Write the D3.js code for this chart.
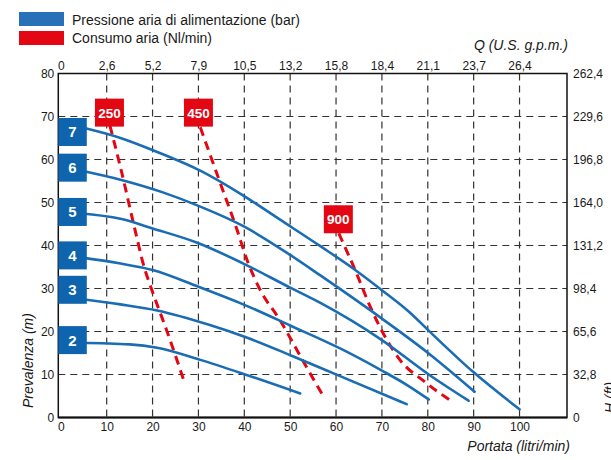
<!DOCTYPE html>
<html>
<head>
<meta charset="utf-8">
<script src="https://cdn.jsdelivr.net/npm/d3@7/dist/d3.min.js"></script>
<style>
  html, body { margin: 0; padding: 0; background: #fff; }
  svg { display: block; font-family: "Liberation Sans", Arial, sans-serif; }
</style>
</head>
<body>
<svg id="chart" width="611" height="460"></svg>
<script>
// Flow (l/min) vs head (m) for each supply air pressure (bar)
const pressureLabels = ["2", "3", "4", "5", "6", "7"];
const pressureLabelHead = [18.0, 29.7, 37.7, 47.8, 58.1, 66.4];

const curve2 = [[4, 17.4], [15, 17.0], [21, 16.2], [30.4, 13.4], [40.5, 9.9], [52.2, 5.6]];
const curve3 = [[4, 27.6], [13, 26.3], [21, 24.9], [32.5, 21.5], [40.5, 18.6], [50.7, 14.2], [60.5, 9.8], [75.4, 3.1]];
const curve4 = [[4, 37.3], [13, 35.8], [20, 34.3], [30, 30.4], [40, 26.2], [50, 21.4], [61, 16.0], [70, 10.9], [75.4, 7.6], [80.2, 4.2]];
const curve5 = [[4, 47.5], [13, 46.2], [20.2, 43.9], [29.6, 40.7], [39.8, 35.8], [50, 30.2], [56.5, 26.7], [70, 18.0], [80.2, 10.0], [88.9, 3.9]];
const curve6 = [[4, 57.5], [13, 55.3], [22.4, 52.3], [29.6, 49.4], [39.8, 44.5], [50, 37.8], [56.5, 33.1], [70, 23.0], [80.2, 14.9], [90.2, 6.0]];
const curve7 = [[4, 67.6], [13, 65.0], [20.2, 62.1], [30.4, 57.4], [39.8, 51.6], [47.8, 46.0], [56.5, 39.9], [63.8, 34.6], [70, 29.6], [76.2, 24.3], [80.2, 20.2], [90, 10.5], [100, 1.9]];
const pressureCurves = [curve2, curve3, curve4, curve5, curve6, curve7];

// Air consumption (Nl/min) iso-lines
const airLabels = ["250", "450", "900"];
const airLabelPos = [[10.6, 70.9], [30.0, 70.9], [60.5, 46.1]];
const air250 = [[10.7, 67.9], [13, 58.2], [16.2, 43.5], [18, 35.6], [20, 29.2], [23.1, 20.2], [27.1, 7.7]];
const air450 = [[30.4, 67.5], [35.1, 53.5], [38.4, 43.7], [40.4, 37.2], [43.4, 29.8], [47.8, 22.6], [52.2, 14.3], [55.4, 8.3], [57.0, 5.4]];
const air900 = [[60.6, 42.8], [64.2, 34.2], [67.4, 25.9], [71.1, 18.0], [74, 13.3], [79.1, 8.5], [85.3, 3.7]];
const airCurves = [air250, air450, air900];

// Axis ticks
const flowTicks = [0, 10, 20, 30, 40, 50, 60, 70, 80, 90, 100];
const gpmLabels = ["0", "2,6", "5,2", "7,9", "10,5", "13,2", "15,8", "18,4", "21,1", "23,7", "26,4"];
const headTicks = [0, 10, 20, 30, 40, 50, 60, 70, 80];
const feetLabels = ["0", "32,8", "65,6", "98,4", "131,2", "164,0", "196,8", "229,6", "262,4"];

const legendItems = ["Pressione aria di alimentazione (bar)", "Consumo aria (Nl/min)"];

const BLUE = "#1a6db5", BOX_BLUE = "#0f64ae", RED = "#e30613";
const plotLeft = 58.3, plotRight = 567, plotTop = 73.5, plotBottom = 417.5;

const svg = d3.select("#chart");
const x = d3.scaleLinear().domain([-0.55, 110.35]).range([plotLeft, plotRight]);
const y = d3.scaleLinear().domain([0, 80]).range([plotBottom, plotTop]);

// Legend
const legend = svg.append("g");
legendItems.forEach((t, i) => {
  legend.append("rect").attr("x", 19).attr("y", 12 + i * 19).attr("width", 45).attr("height", 14)
    .attr("fill", i === 0 ? "#2870b8" : RED);
  legend.append("text").attr("x", 72).attr("y", 25 + i * 17.5).attr("font-size", 14)
    .attr("fill", "#1a1a1a").text(t);
});

// Grid
const grid = svg.append("g").attr("stroke", "#333").attr("stroke-width", 1.2).attr("stroke-dasharray", "7,5");
grid.selectAll("line.h").data(headTicks.filter(d => d > 0 && d < 80)).join("line").attr("class", "h")
  .attr("x1", plotLeft).attr("x2", plotRight).attr("y1", d => y(d)).attr("y2", d => y(d));
grid.selectAll("line.v").data(flowTicks.filter(d => d > 0)).join("line").attr("class", "v")
  .attr("x1", d => x(d)).attr("x2", d => x(d)).attr("y1", plotTop).attr("y2", plotBottom);

// Frame
svg.append("rect").attr("x", plotLeft).attr("y", plotTop).attr("width", plotRight - plotLeft).attr("height", plotBottom - plotTop)
  .attr("fill", "none").attr("stroke", "#111").attr("stroke-width", 1.5);
svg.append("line").attr("x1", plotLeft).attr("x2", plotRight).attr("y1", plotBottom).attr("y2", plotBottom)
  .attr("stroke", "#111").attr("stroke-width", 2);

// Axes
const styleAxis = g => { g.select(".domain").remove(); g.selectAll("line").remove();
  g.selectAll("text").attr("font-size", 12).attr("fill", "#1a1a1a").attr("font-family", "Liberation Sans, Arial, sans-serif"); };

svg.append("g").attr("transform", `translate(0,${plotBottom})`)
  .call(d3.axisBottom(x).tickValues(flowTicks).tickSize(0).tickPadding(5).tickFormat(d => d))
  .call(styleAxis);
svg.append("g").attr("transform", `translate(0,${plotTop})`)
  .call(d3.axisTop(x).tickValues(flowTicks).tickSize(0).tickPadding(4).tickFormat((d, i) => gpmLabels[i]))
  .call(styleAxis);
svg.append("g").attr("transform", `translate(${plotLeft},0)`)
  .call(d3.axisLeft(y).tickValues(headTicks).tickSize(0).tickPadding(4).tickFormat(d => d))
  .call(styleAxis);
svg.append("g").attr("transform", `translate(${plotRight},0)`)
  .call(d3.axisRight(y).tickValues(headTicks).tickSize(0).tickPadding(6).tickFormat((d, i) => feetLabels[i]))
  .call(styleAxis);

// Axis titles (the feet title sits at the page's right edge)
svg.append("text").attr("transform", "translate(33,408) rotate(-90)").attr("font-size", 14)
  .attr("font-style", "italic").attr("fill", "#1a1a1a").text("Prevalenza (m)");
svg.append("text").attr("transform", "translate(615,413) rotate(-90)").attr("font-size", 14)
  .attr("font-style", "italic").attr("fill", "#1a1a1a").text("H (ft)");
svg.append("text").attr("x", 570).attr("y", 451).attr("text-anchor", "end").attr("font-size", 14)
  .attr("font-style", "italic").attr("fill", "#1a1a1a").text("Portata (litri/min)");
svg.append("text").attr("x", 568).attr("y", 50).attr("text-anchor", "end").attr("font-size", 14)
  .attr("font-style", "italic").attr("fill", "#1a1a1a").text("Q (U.S. g.p.m.)");

const line = d3.line().x(d => x(d[0])).y(d => y(d[1])).curve(d3.curveMonotoneX);

// Air consumption lines
svg.append("g").selectAll("path").data(airCurves).join("path")
  .attr("d", line).attr("fill", "none").attr("stroke", RED).attr("stroke-width", 3)
  .attr("stroke-dasharray", "9,6");

// Pressure curves
svg.append("g").selectAll("path").data(pressureCurves).join("path")
  .attr("d", line).attr("fill", "none").attr("stroke", BLUE).attr("stroke-width", 2.6)
  .attr("stroke-linecap", "round");

// Pressure labels
const pl = svg.append("g").selectAll("g").data(pressureLabels).join("g")
  .attr("transform", (d, i) => `translate(${plotLeft},${y(pressureLabelHead[i]) - 14})`);
pl.append("rect").attr("width", 28.5).attr("height", 28).attr("fill", BOX_BLUE);
pl.append("text").attr("x", 14.2).attr("y", 19.5).attr("text-anchor", "middle").attr("font-size", 15)
  .attr("font-weight", "bold").attr("fill", "#fff").text(d => d);

// Air consumption labels
const al = svg.append("g").selectAll("g").data(airLabels).join("g")
  .attr("transform", (d, i) => `translate(${x(airLabelPos[i][0]) - 14.5},${y(airLabelPos[i][1]) - 14})`);
al.append("rect").attr("width", 29).attr("height", 28).attr("fill", RED);
al.append("text").attr("x", 14.5).attr("y", 19).attr("text-anchor", "middle").attr("font-size", 13.5)
  .attr("font-weight", "bold").attr("fill", "#fff").text(d => d);
</script>
</body>
</html>
